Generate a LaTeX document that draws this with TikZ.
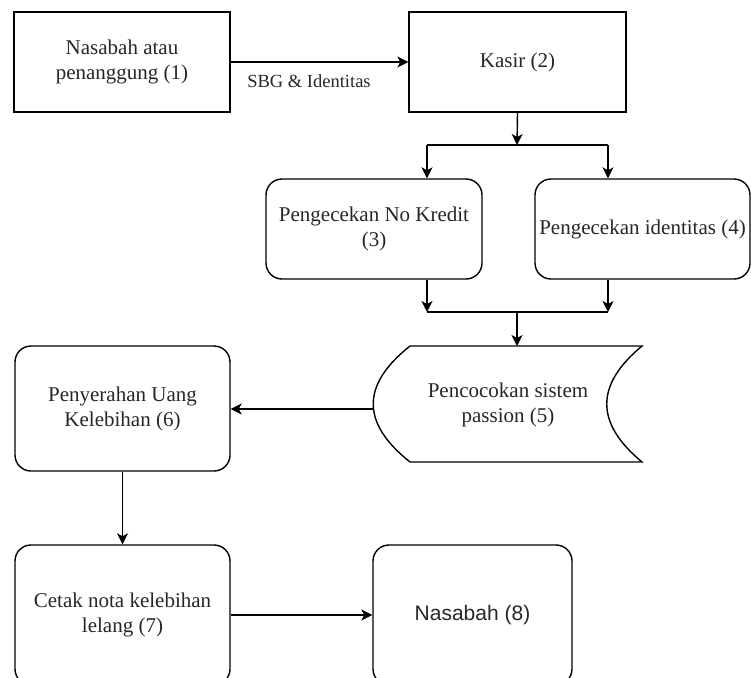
\documentclass[tikz,border=0pt]{standalone}
\usepackage{fontspec}
\setmainfont{Liberation Serif}
\newfontfamily\sansf{Liberation Sans}
\usetikzlibrary{arrows.meta}
\begin{document}
\begin{tikzpicture}[x=1pt,y=-1pt,
  box/.style={draw,line width=1.4pt,inner sep=0pt,align=center,text=black!85,
    font=\fontsize{21}{25}\selectfont},
  rbox/.style={box,rounded corners=16pt},
  arr/.style={-{Stealth[length=11pt,width=11pt,inset=3pt]},line width=1.4pt},
  ln/.style={line width=1.4pt},
  lbl/.style={inner sep=0pt,text=black!85,font=\fontsize{18.5}{22}\selectfont}]
\useasboundingbox (0,0) rectangle (751,677);

% nodes
\node[box,minimum width=216pt,minimum height=100pt] (n1) at (122,62) {Nasabah atau\\penanggung (1)};
\node[box,minimum width=217pt,minimum height=100pt] (n2) at (517.5,62) {Kasir (2)};
\node[rbox,minimum width=216pt,minimum height=100pt] (n3) at (374,229) {Pengecekan No Kredit\\(3)};
\node[rbox,minimum width=215pt,minimum height=100pt] (n4) at (642.5,229) {Pengecekan identitas (4)};
\node[rbox,minimum width=215pt,minimum height=125pt] (n6) at (122.5,408.5) {Penyerahan Uang\\Kelebihan (6)};
\node[rbox,minimum width=215pt,minimum height=140pt] (n7) at (122.5,615) {Cetak nota kelebihan\\lelang (7)};
\node[rbox,minimum width=199pt,minimum height=140pt,font=\sansf\fontsize{21}{25}\selectfont] (n8) at (472.5,615) {Nasabah (8)};

% stored data shape (5)
\draw[ln] (410,346) -- (642,346)
  .. controls (595,385) and (595,423) .. (642,462)
  -- (410,462)
  .. controls (361,423) and (361,385) .. (410,346) -- cycle;
\node[inner sep=0pt,align=center,text=black!85,font=\fontsize{21}{25}\selectfont] (n5) at (508,405) {Pencocokan sistem\\passion (5)};
\coordinate (n5w) at (373,409);
\coordinate (n5n) at (517,346);

% label
\node[lbl] (l1) at (309,81) {SBG \& Identitas};

% junction coordinates
\coordinate (j1) at (517,145);
\coordinate (a3) at (427,145);
\coordinate (a4) at (608,145);
\coordinate (b3) at (427,312);
\coordinate (b4) at (608,312);
\coordinate (j2) at (517,312);

% connectors
\draw[arr] (n1.east) -- (n2.west);
\draw[arr] (n2.south) -- (j1);
\draw[ln] (a3) -- (a4);
\draw[arr] (a3) -- (a3 |- n3.north);
\draw[arr] (a4) -- (a4 |- n4.north);
\draw[arr] (b3 |- n3.south) -- (b3);
\draw[arr] (b4 |- n4.south) -- (b4);
\draw[ln] (b3) -- (b4);
\draw[arr] (j2) -- (n5n);
\draw[arr] (n5w) -- (n6.east |- n5w);
\draw[arr] (n6.south) -- (n7.north);
\draw[arr] (n7.east) -- (n8.west);
\end{tikzpicture}
\end{document}
